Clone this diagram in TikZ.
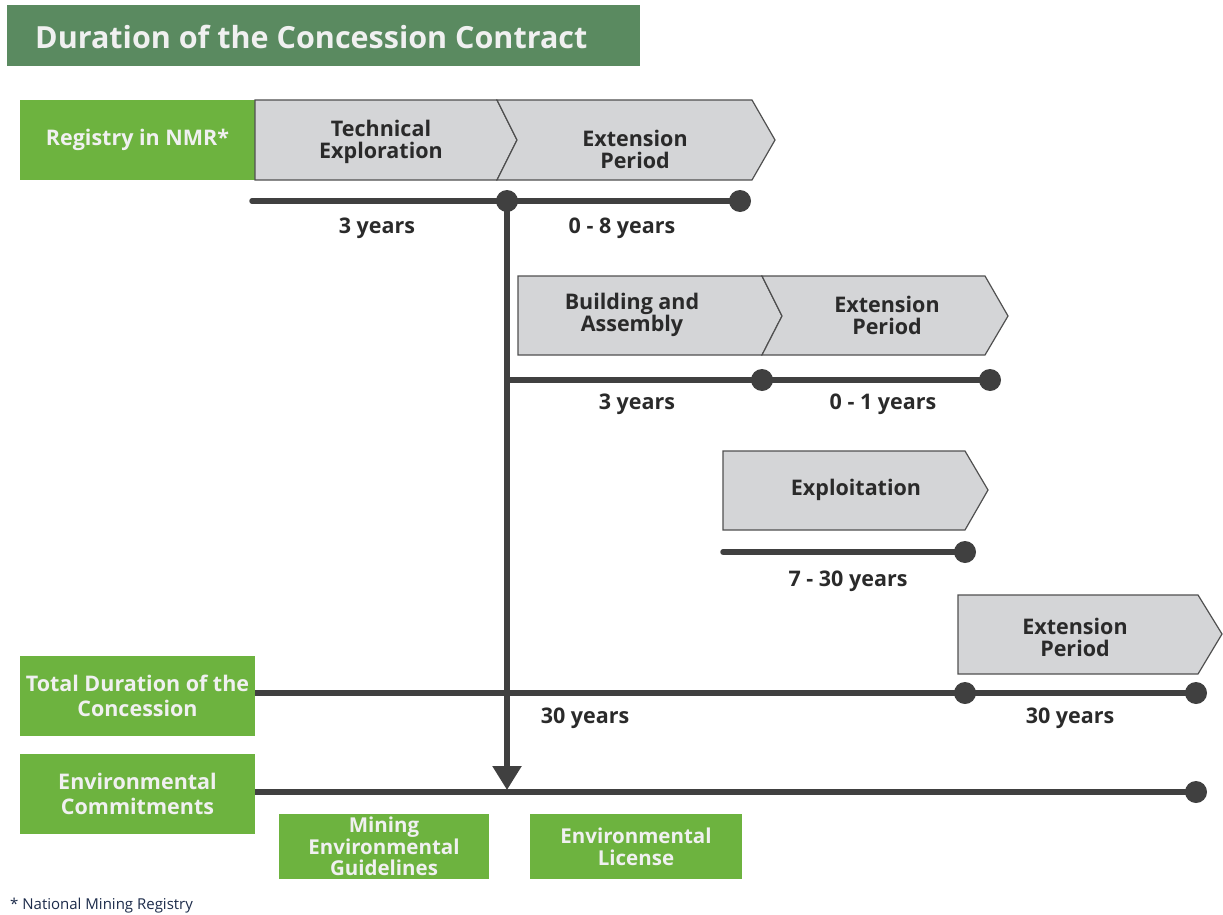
\documentclass[tikz,border=0pt]{standalone}
\usepackage{fontspec}
\setmainfont{Open Sans}
\usetikzlibrary{arrows.meta}

\definecolor{titlegreen}{HTML}{5A8A60}
\definecolor{leafgreen}{HTML}{6DB33F}
\definecolor{phasegray}{HTML}{D4D5D7}
\definecolor{phaseedge}{HTML}{505050}
\definecolor{linegray}{HTML}{404040}
\definecolor{darktext}{HTML}{2A2A2A}
\definecolor{notenavy}{HTML}{1C2B4A}

\tikzset{
  greenbox/.style={fill=leafgreen, text=white!94!black, align=center, inner sep=0pt,
    font=\bfseries\fontsize{21.5}{25}\selectfont},
  phase/.style={fill=phasegray, draw=phaseedge, line width=1.2pt, line join=miter},
  phasetext/.style={text=darktext, align=center, font=\bfseries\fontsize{21.5}{22}\selectfont},
  timeline/.style={draw=linegray, line width=5.5pt, line cap=round},
  dot/.style={circle, fill=linegray, minimum size=22pt, inner sep=0pt},
  years/.style={text=darktext, font=\bfseries\fontsize{21.5}{21}\selectfont}
}

\begin{document}
\begin{tikzpicture}[x=1pt, y=-1pt]
  \useasboundingbox (0,0) rectangle (1223,915);

  % title bar
  \node[fill=titlegreen, minimum width=633pt, minimum height=61pt, inner sep=0pt] (titlebar) at (323.5,35.5) {};
  \node[anchor=west, text=white!94!black, font=\bfseries\fontsize{30.5}{32}\selectfont, inner sep=0pt] (title) at (35,37) {Duration of the Concession Contract};

  % left hand boxes
  \node[greenbox, minimum width=235pt, minimum height=80pt] (registry) at (137.5,140) {Registry in NMR*};
  \node[greenbox, minimum width=235pt, minimum height=80pt] (total) at (137.5,696) {Total Duration of the\\Concession};
  \node[greenbox, minimum width=235pt, minimum height=80pt] (envcommit) at (137.5,794) {Environmental\\Commitments};
  \node[greenbox, minimum width=210pt, minimum height=65pt, font=\bfseries\fontsize{20.5}{21.5}\selectfont] (guidelines) at (384,846.5) {Mining\\Environmental\\Guidelines};
  \node[greenbox, minimum width=212pt, minimum height=65pt, font=\bfseries\fontsize{20.5}{22}\selectfont] (license) at (636,846.5) {Environmental\\License};

  % phases
  \draw[phase] (255,100) -- (497,100) -- (517,140) -- (497,180) -- (255,180) -- cycle;
  \draw[phase] (497,100) -- (752,100) -- (775,140) -- (752,180) -- (497,180) -- (517,140) -- cycle;
  \draw[phase] (518,276) -- (762,276) -- (782,316) -- (762,355) -- (518,355) -- cycle;
  \draw[phase] (762,276) -- (985,276) -- (1008,316) -- (985,355) -- (762,355) -- (782,316) -- cycle;
  \draw[phase] (723,451) -- (965,451) -- (988,490) -- (965,530) -- (723,530) -- cycle;
  \draw[phase] (958,595) -- (1198,595) -- (1222,634) -- (1198,674) -- (958,674) -- cycle;

  \node[phasetext] (techexp) at (381,142) {Technical\\Exploration};
  \node[phasetext] (extexp) at (635,149) {Extension\\Period};
  \node[phasetext] (building) at (632,315) {Building and\\Assembly};
  \node[phasetext] (extbuild) at (887,315) {Extension\\Period};
  \node[phasetext] (exploit) at (856,490) {Exploitation};
  \node[phasetext] (extexploit) at (1075,637) {Extension\\Period};

  % time lines
  \coordinate (start1) at (252,201);
  \node[dot] (d1a) at (507,201) {};
  \node[dot] (d1b) at (740,201) {};
  \coordinate (start2) at (507,380);
  \node[dot] (d2a) at (762,380) {};
  \node[dot] (d2b) at (990,380) {};
  \coordinate (start3) at (723,552);
  \node[dot] (d3) at (965,552) {};
  \node[dot] (d4a) at (965,693) {};
  \node[dot] (d4b) at (1196,693) {};
  \node[dot] (d5) at (1196,792) {};
  \coordinate (arrowend) at (507,790);

  \draw[timeline] (start1) -- (d1a.center) -- (d1b.center);
  \draw[timeline] (start2) -- (d2a.center) -- (d2b.center);
  \draw[timeline] (start3) -- (d3.center);
  \draw[timeline, line cap=butt] (total.east |- d4a) -- (d4a.center) -- (d4b.center);
  \draw[timeline, line cap=butt] (envcommit.east |- d5) -- (d5.center);
  \draw[timeline, line cap=butt, -{Triangle[length=24pt, width=28pt]}] (d1a.center) -- (arrowend);

  % durations
  \node[years] (y1a) at (377,228) {3 years};
  \node[years] (y1b) at (622,228) {0 - 8 years};
  \node[years] (y2a) at (637,404) {3 years};
  \node[years] (y2b) at (883,404) {0 - 1 years};
  \node[years] (y3) at (848,581) {7 - 30 years};
  \node[years] (y4a) at (585,718) {30 years};
  \node[years] (y4b) at (1070,718) {30 years};

  % footnote
  \node[anchor=west, text=notenavy, font=\fontsize{15}{16}\selectfont, inner sep=0pt] (note) at (10,906) {* National Mining Registry};
\end{tikzpicture}
\end{document}
